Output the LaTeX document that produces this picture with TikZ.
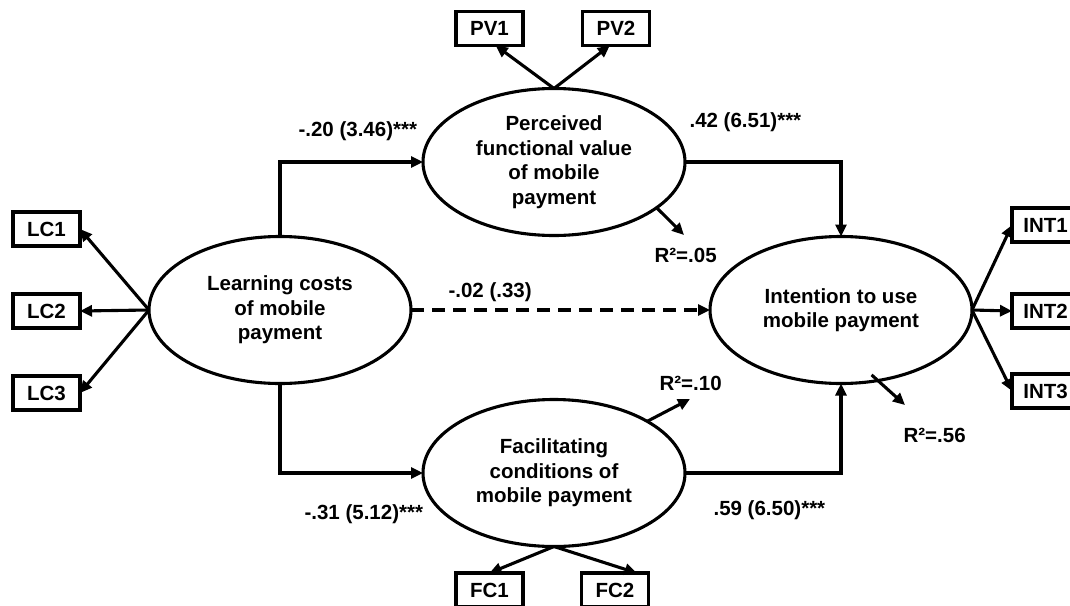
\documentclass[tikz,border=0pt]{standalone}
\usepackage{fontspec}
\setmainfont{Liberation Sans}
\usetikzlibrary{shapes.geometric,arrows.meta,calc}
\begin{document}
\begin{tikzpicture}[x=1pt,y=-1pt,
  font=\bfseries\fontsize{20.5}{24.5}\selectfont,
  line width=3.1pt,
  tip/.style={-{Triangle[length=12pt,width=11pt]}},
  latent/.style={draw,ellipse,inner sep=0pt,outer sep=0pt,minimum width=262pt,minimum height=147pt,align=center},
  ind/.style={draw,rectangle,inner sep=0pt,outer sep=0pt,minimum width=67pt,minimum height=34pt},
  indr/.style={ind,minimum width=76pt},
  lbl/.style={anchor=base west,inner sep=0pt}]
\useasboundingbox (0,0) rectangle (1070,605);
% latent variables
\node[latent] (lc) at (280,310) {Learning costs\\of mobile\\payment};
\node[latent] (pv) at (554,162) {Perceived\\functional value\\of mobile\\payment};
\node[latent] (fc) at (554,473) {Facilitating\\conditions of\\mobile payment};
\node[latent] (int) at (841,310) {Intention to use\\mobile payment};
% indicators
\node[ind] (lc1) at (46.5,229) {LC1};
\node[ind] (lc2) at (46.5,311) {LC2};
\node[ind] (lc3) at (46.5,393) {LC3};
\node[ind] (pv1) at (489.5,28.5) {PV1};
\node[ind] (pv2) at (616,28.5) {PV2};
\node[ind] (fc1) at (489.5,590) {FC1};
\node[ind] (fc2) at (615,590) {FC2};
\node[indr] (int1) at (1050,225) {INT1\kern9pt};
\node[indr] (int2) at (1050,311) {INT2\kern9pt};
\node[indr] (int3) at (1050,391) {INT3\kern9pt};
% loadings
\draw[tip] (lc.west) -- (lc1.east);
\draw[tip] (lc.west) -- (lc2.east);
\draw[tip] (lc.west) -- (lc3.east);
\draw[tip] (pv.north) -- (pv1.-70);
\draw[tip] (pv.north) -- (pv2.-110);
\draw[tip] (fc.south) -- (fc1.north);
\draw[tip] (fc.south) -- (fc2.38);
\draw[tip] (int.east) -- (int1.west);
\draw[tip] (int.east) -- (int2.west);
\draw[tip] (int.east) -- (int3.west);
% structural paths
\draw[tip] (lc.north) |- (pv.west);
\draw[tip] (lc.south) |- (fc.west);
\draw[tip] (pv.east) -| (int.north);
\draw[tip] (fc.east) -| (int.south);
\draw[tip,dash pattern=on 13pt off 8pt] (lc.east) -- (int.west);
% R2 arrows
\coordinate (r05) at (684,235);
\coordinate (r10) at (690,399);
\coordinate (r56) at (905,405);
\draw[tip] (pv.-24) -- (r05);
\draw[tip] (fc.29) -- (r10);
\draw[tip] ($(int.-64)+(-4,-6)$) -- (r56);
% labels
\node[lbl] (l1) at (297,136) {-.20 (3.46)***};
\node[lbl] (l2) at (688,127) {.42 (6.51)***};
\node[lbl] (l3) at (447,297) {-.02 (.33)};
\node[lbl] (l4) at (303,519) {-.31 (5.12)***};
\node[lbl] (l5) at (712,515) {.59 (6.50)***};
\node[lbl] (l6) at (653,262) {R²=.05};
\node[lbl] (l7) at (658,390) {R²=.10};
\node[lbl] (l8) at (902,442) {R²=.56};
\end{tikzpicture}
\end{document}
